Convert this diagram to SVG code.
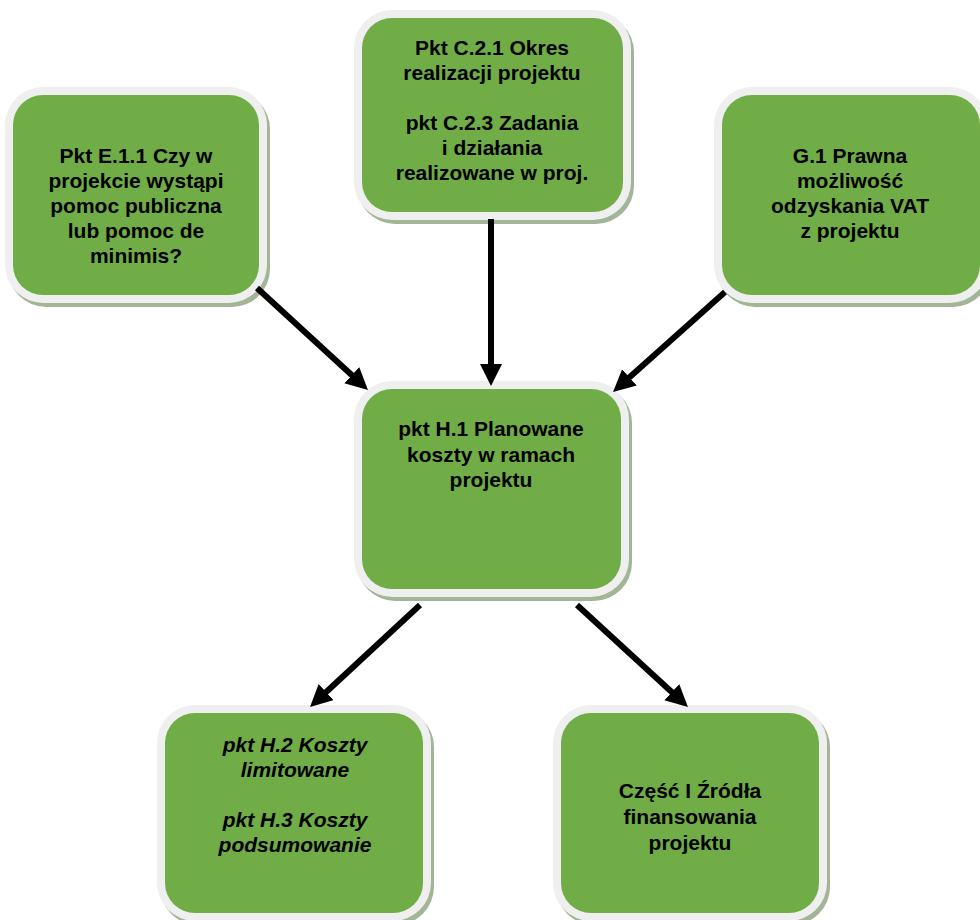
<svg xmlns="http://www.w3.org/2000/svg" width="980" height="920" viewBox="0 0 980 920">
<style>
.sh{fill:#a2b597}
.out{fill:#efefef}
.in{fill:#70ad47}
.t{font-family:"Liberation Sans",Arial,sans-serif;font-weight:bold;font-size:21px;fill:#000;text-anchor:middle}
.i{font-style:italic}
.c{stroke:#000;stroke-width:6;fill:none}
</style>
<defs>
<marker id="ah" markerUnits="userSpaceOnUse" markerWidth="24" markerHeight="24" refX="1" refY="11" orient="auto">
<path d="M0,0 L22,11 L0,22 Z" fill="#000"/>
</marker>
</defs>
<rect width="980" height="920" fill="#fff"/>
<g id="n1">
<rect class="sh" x="8" y="91" width="262" height="216" rx="38"/>
<rect class="out" x="5" y="87" width="262" height="216" rx="38"/>
<rect class="in" x="13" y="95" width="246" height="200" rx="30"/>
<text class="t" x="136" y="163">Pkt E.1.1 Czy w</text>
<text class="t" x="136" y="188">projekcie wystąpi</text>
<text class="t" x="136" y="213">pomoc publiczna</text>
<text class="t" x="136" y="238">lub pomoc de</text>
<text class="t" x="136" y="263">minimis?</text>
</g>
<g id="n2">
<rect class="sh" x="357" y="14" width="277" height="210" rx="38"/>
<rect class="out" x="354" y="10" width="277" height="210" rx="38"/>
<rect class="in" x="362" y="18" width="261" height="194" rx="30"/>
<text class="t" x="492" y="55">Pkt C.2.1 Okres</text>
<text class="t" x="492" y="80">realizacji projektu</text>
<text class="t" x="492" y="130">pkt C.2.3 Zadania</text>
<text class="t" x="492" y="155">i działania</text>
<text class="t" x="492" y="180">realizowane w proj.</text>
</g>
<g id="n3">
<rect class="sh" x="717" y="91" width="274" height="216" rx="38"/>
<rect class="out" x="714" y="87" width="274" height="216" rx="38"/>
<rect class="in" x="722" y="95" width="258" height="200" rx="30"/>
<text class="t" x="850" y="163">G.1 Prawna</text>
<text class="t" x="850" y="188">możliwość</text>
<text class="t" x="850" y="213">odzyskania VAT</text>
<text class="t" x="850" y="238">z projektu</text>
</g>
<g id="n4">
<rect class="sh" x="357" y="385" width="275" height="216" rx="38"/>
<rect class="out" x="354" y="381" width="275" height="216" rx="38"/>
<rect class="in" x="362" y="389" width="259" height="200" rx="30"/>
<text class="t" x="491" y="436">pkt H.1 Planowane</text>
<text class="t" x="491" y="462">koszty w ramach</text>
<text class="t" x="491" y="487">projektu</text>
</g>
<g id="n5">
<rect class="sh" x="160" y="709" width="274" height="216" rx="38"/>
<rect class="out" x="157" y="705" width="274" height="216" rx="38"/>
<rect class="in" x="165" y="713" width="258" height="200" rx="30"/>
<text class="t i" x="295" y="752">pkt H.2 Koszty</text>
<text class="t i" x="295" y="777">limitowane</text>
<text class="t i" x="295" y="827">pkt H.3 Koszty</text>
<text class="t i" x="295" y="852">podsumowanie</text>
</g>
<g id="n6">
<rect class="sh" x="556" y="709" width="274" height="216" rx="38"/>
<rect class="out" x="553" y="705" width="274" height="216" rx="38"/>
<rect class="in" x="561" y="713" width="258" height="200" rx="30"/>
<text class="t" x="690" y="798">Część I Źródła</text>
<text class="t" x="690" y="824">finansowania</text>
<text class="t" x="690" y="850">projektu</text>
</g>
<g id="connectors">
<line class="c" x1="257" y1="288" x2="352.5" y2="375.8" marker-end="url(#ah)"/>
<line class="c" x1="491" y1="219" x2="491" y2="365" marker-end="url(#ah)"/>
<line class="c" x1="725" y1="292" x2="628.7" y2="378" marker-end="url(#ah)"/>
<line class="c" x1="420" y1="605" x2="325.4" y2="692.7" marker-end="url(#ah)"/>
<line class="c" x1="577" y1="605" x2="672.5" y2="692.8" marker-end="url(#ah)"/>
</g>
</svg>
